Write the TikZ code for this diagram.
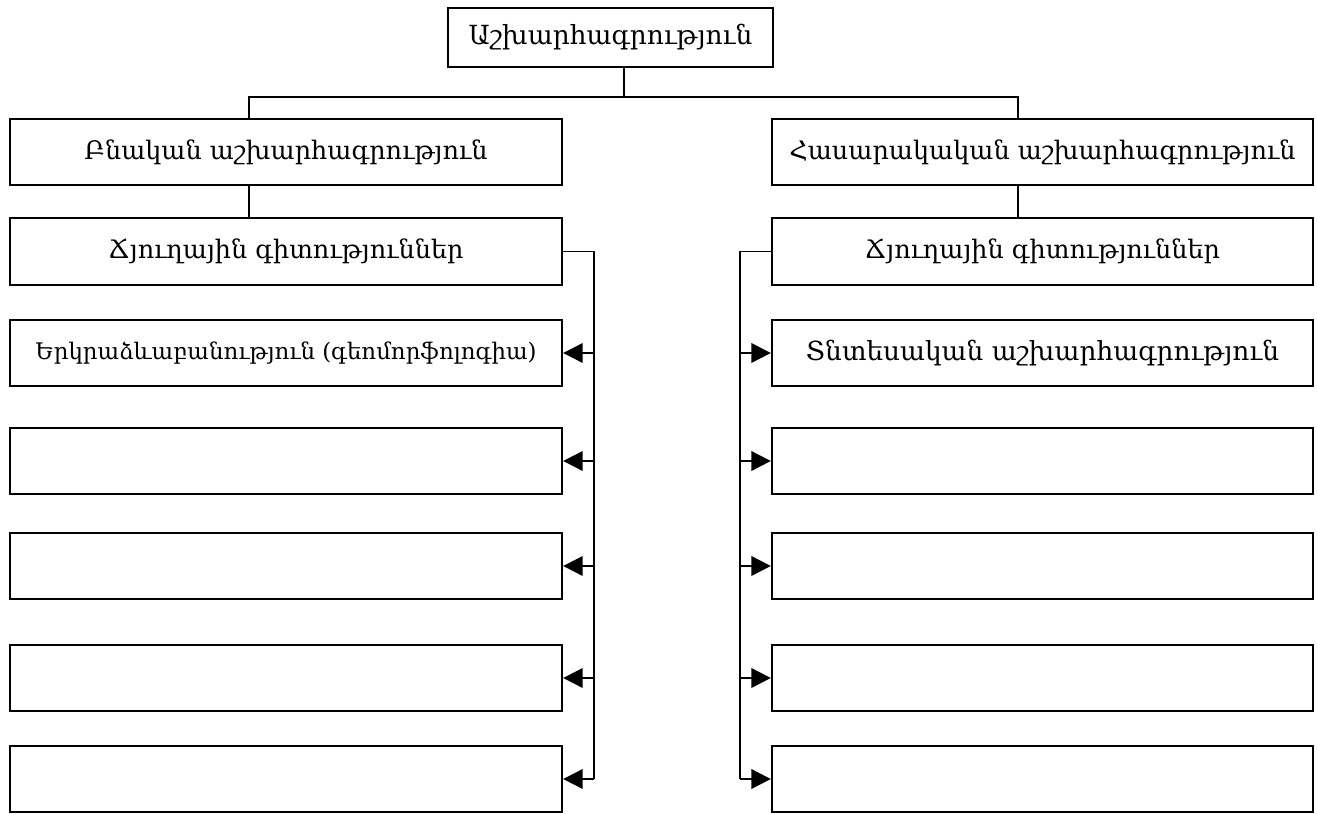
\documentclass[tikz,border=0pt]{standalone}
\usepackage{fontspec}
\setmainfont{DejaVu Serif}
\usetikzlibrary{arrows.meta}
\begin{document}
\begin{tikzpicture}[x=0.2mm,y=-0.2mm,
    box/.style={draw, line width=1.3pt, rectangle, inner sep=0pt, align=center},
    headbox/.style={box, minimum height=13.3mm, font=\fontsize{14.5}{17}\selectfont},
    leafbox/.style={box, minimum height=13.2mm, font=\fontsize{13}{16}\selectfont},
    wideL/.style={minimum width=110.4mm},
    wideR/.style={minimum width=108.2mm},
    branch/.style={draw, line width=1.1pt},
    feed/.style={branch, -{Triangle[length=3.9mm,width=3.9mm]}}]
    \useasboundingbox (0,0) rectangle (1317,814);

    % գլխավոր բլոկ
    \node[box, minimum width=65mm, minimum height=11.8mm, font=\fontsize{15}{18}\selectfont] (geo) at (610.5,37.5) {Աշխարհագրություն};

    % երկու ճյուղ
    \node[headbox, wideL] (natural) at (286,152) {Բնական աշխարհագրություն};
    \node[headbox, wideR] (social) at (1042.5,152) {Հասարակական աշխարհագրություն};

    \node[headbox, wideL] (branchL) at (286,251.5) {Ճյուղային գիտություններ};
    \node[headbox, wideR] (branchR) at (1042.5,251.5) {Ճյուղային գիտություններ};

    % ձախ սյունակ
    \node[leafbox, wideL] (leafL1) at (286,353) {Երկրաձևաբանություն (գեոմորֆոլոգիա)};
    \node[leafbox, wideL] (leafL2) at (286,461) {};
    \node[leafbox, wideL] (leafL3) at (286,566) {};
    \node[leafbox, wideL] (leafL4) at (286,678) {};
    \node[leafbox, wideL] (leafL5) at (286,779) {};

    % աջ սյունակ
    \node[leafbox, wideR, font=\fontsize{15}{18}\selectfont] (leafR1) at (1042.5,353) {Տնտեսական աշխարհագրություն};
    \node[leafbox, wideR] (leafR2) at (1042.5,461) {};
    \node[leafbox, wideR] (leafR3) at (1042.5,566) {};
    \node[leafbox, wideR] (leafR4) at (1042.5,678) {};
    \node[leafbox, wideR] (leafR5) at (1042.5,779) {};

    % կապեր վերևում
    \coordinate (split) at (624,97);
    \coordinate (joinL) at (249,97);
    \coordinate (joinR) at (1018,97);
    \draw[branch] (split |- geo.south) -- (split);
    \draw[branch] (joinL |- natural.north) -- (joinL) -- (joinR) -- (joinR |- social.north);
    \draw[branch] (joinL |- natural.south) -- (joinL |- branchL.north);
    \draw[branch] (joinR |- social.south) -- (joinR |- branchR.north);

    % ուղղահայաց գծեր
    \coordinate (busL) at (594,0);
    \coordinate (busR) at (740,0);
    \draw[branch] (branchL.east) -| (busL |- leafL5.east);
    \draw[branch] (branchR.west) -| (busR |- leafR5.west);

    % սլաքներ
    \foreach \i in {1,...,5} {
        \draw[feed] (busL |- leafL\i.east) -- (leafL\i.east);
        \draw[feed] (busR |- leafR\i.west) -- (leafR\i.west);
    }
\end{tikzpicture}
\end{document}
